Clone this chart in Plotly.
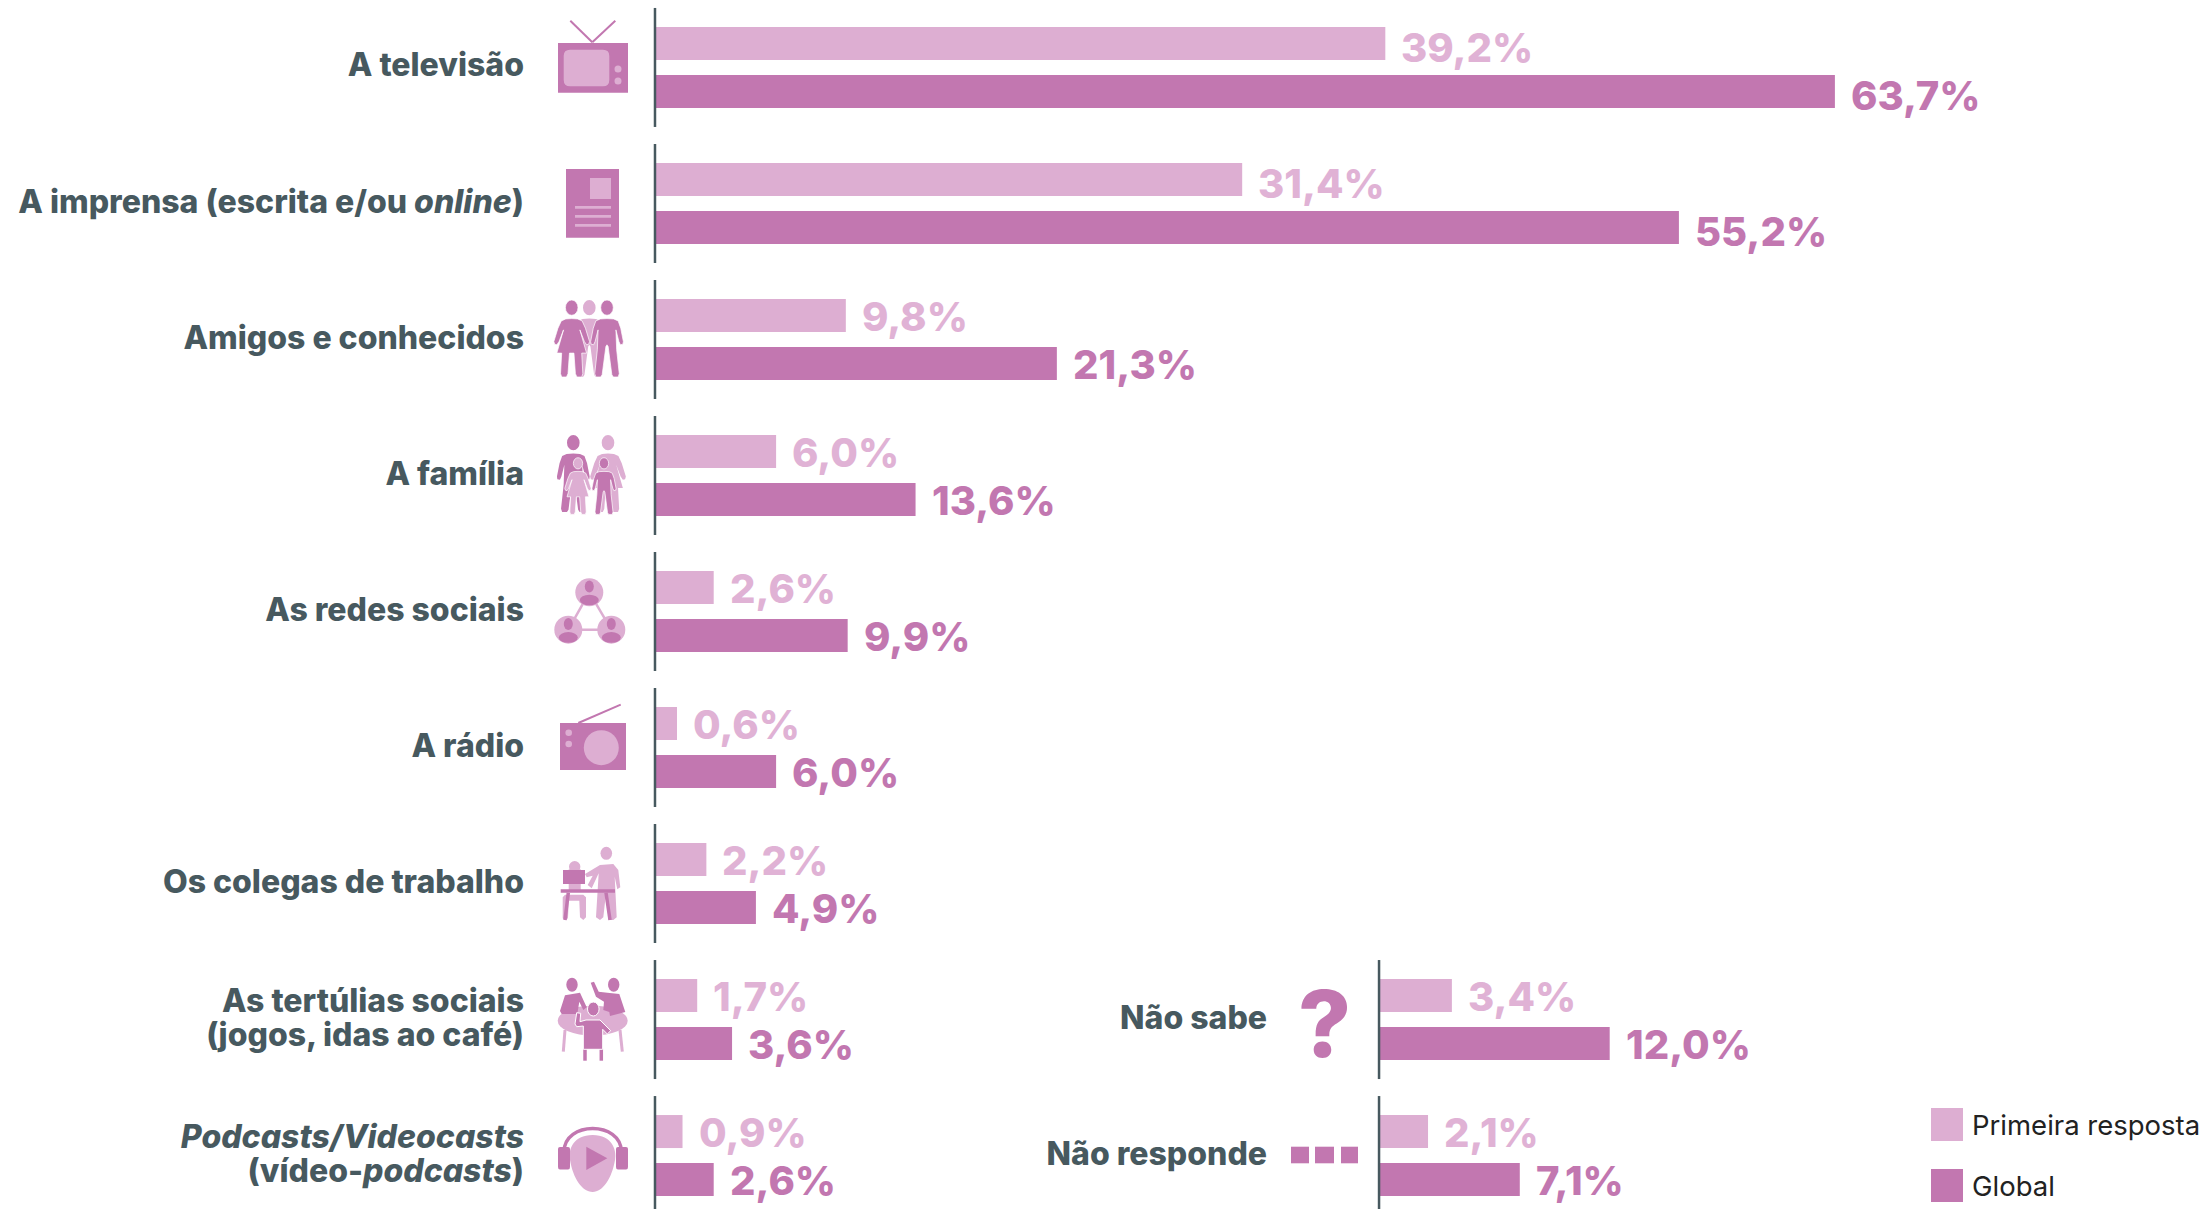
import re
import plotly.graph_objects as go

W, H = 2210, 1209
LIGHT, DARK, SLATE = "#ddaed2", "#c277b0", "#47595f"

categories = ["A televisão", "A imprensa (escrita e/ou <i>online</i>)", "Amigos e conhecidos", "A família",
              "As redes sociais", "A rádio", "Os colegas de trabalho",
              "As tertúlias sociais<br>(jogos, idas ao café)", "<i>Podcasts/Videocasts</i><br>(vídeo-<i>podcasts</i>)"]
primeira = [39.2, 31.4, 9.8, 6.0, 2.6, 0.6, 2.2, 1.7, 0.9]
globais = [63.7, 55.2, 21.3, 13.6, 9.9, 6.0, 4.9, 3.6, 2.6]

categories2 = ["Não sabe", "Não responde"]
rows2 = [7, 8]
primeira2 = [3.4, 2.1]
globais2 = [12.0, 7.1]

BASE = -0.55
PX = 18.35  # pixels per percentage point
Z1, Z2 = 666.0, 1389.5  # pixel of zero on each panel
YR = [8.393, -0.496]
BAR_SHIFT = 24 / 136
LINE_SHIFT = 17 / 136

rows = list(range(len(categories)))
fmt = lambda v: f"{v:.1f}".replace(".", ",") + "%"

# two-line categories are set as two ticks, so their leading can follow the original
tickvals, ticktext = [], []
for r, cat in zip(rows, categories):
    parts = cat.split("<br>")
    if len(parts) == 1:
        tickvals.append(r - 0.016)
        ticktext.append(parts[0])
    else:
        tickvals += [r - LINE_SHIFT - 0.012, r + LINE_SHIFT - 0.012]
        ticktext += parts


def bars(name, vals, ys, color, xa, ya):
    return go.Bar(name=name, y=ys, x=[round(v - BASE, 3) for v in vals], base=BASE, orientation="h",
                  marker=dict(color=color, line=dict(width=0)), xaxis=xa, yaxis=ya, showlegend=False,
                  hovertemplate="%{text}<extra>" + name + "</extra>", text=[fmt(v) for v in vals],
                  textposition="none")


fig = go.Figure([
    bars("Primeira resposta", primeira, rows, LIGHT, "x", "y"),
    bars("Global", globais, rows, DARK, "x", "y"),
    bars("Primeira resposta", primeira2, rows2, LIGHT, "x2", "y2"),
    bars("Global", globais2, rows2, DARK, "x2", "y2"),
])

shapes, anns = [], []


# ---------- pictogram helpers: coordinates are page pixels, mapped to paper ----------
def pth(d):
    toks = re.findall(r"[MLCQZ]|-?\d+\.?\d*", d)
    out, isx = [], True
    for t in toks:
        if t in "MLCQZ":
            out.append(t)
        else:
            out.append(f"{float(t)/W:.5f}," if isx else f"{1-float(t)/H:.5f}")
            isx = not isx
    return " ".join(out).replace(", ", ",")


def path(d, fill=DARK, lw=0, lc="white"):
    shapes.append(dict(type="path", xref="paper", yref="paper", path=pth(d), fillcolor=fill, layer="above",
                       line=dict(width=lw, color=lc)))


def poly(pts, fill=DARK, lw=0, lc="white"):
    path("M " + " L ".join(f"{x} {y}" for x, y in pts) + " Z", fill, lw, lc)


def rect(x0, y0, x1, y1, fill=DARK):
    shapes.append(dict(type="rect", xref="paper", yref="paper", x0=x0/W, x1=x1/W, y0=1-y0/H, y1=1-y1/H,
                       fillcolor=fill, layer="above", line=dict(width=0)))


def ell(cx, cy, rx, ry=None, fill=DARK, lw=0, lc="white"):
    ry = ry or rx
    shapes.append(dict(type="circle", xref="paper", yref="paper", x0=(cx-rx)/W, x1=(cx+rx)/W,
                       y0=1-(cy-ry)/H, y1=1-(cy+ry)/H, fillcolor=fill, layer="above",
                       line=dict(width=lw, color=lc)))


def seg(x0, y0, x1, y1, color=DARK, w=2):
    shapes.append(dict(type="line", xref="paper", yref="paper", x0=x0/W, x1=x1/W, y0=1-y0/H, y1=1-y1/H,
                       layer="above", line=dict(color=color, width=w)))


MAN = [(0, 56), (18, 57), (30, 63), (37, 85), (44, 125), (43, 133), (36, 135), (32, 125), (24, 90), (26, 150),
       (33, 222), (30, 232), (17, 232), (13, 225), (3, 140), (0, 135)]
WOMAN = [(0, 56), (16, 57), (28, 63), (37, 85), (48, 125), (46, 133), (40, 135), (34, 125), (22, 90), (40, 160),
         (27, 160), (30, 222), (27, 232), (14, 232), (10, 222), (6, 160), (0, 160)]


def person(cx, top, h, color, shape, halo=0.0):
    k = h / 232
    kx = k * 1.12
    right = [(cx + x*kx, top + y*k) for x, y in shape]
    left = [(cx - x*kx, top + y*k) for x, y in reversed(shape[1:-1])]
    poly(right + left, color, halo)
    ell(cx, top + 23*k, 19*k, 23*k, color, halo)


# TV
rect(558, 43, 628, 92.7)
path("M 570 49.7 L 603 49.7 Q 609.3 49.7 609.3 56 L 609.3 80 Q 609.3 86.3 603 86.3 L 570 86.3 Q 563.7 86.3 563.7 80 L 563.7 56 Q 563.7 49.7 570 49.7 Z", LIGHT)
ell(618, 69, 3.5, fill=LIGHT)
ell(618, 81, 3.5, fill=LIGHT)
seg(592.3, 42.3, 570.3, 20.7)
seg(592.3, 42.3, 615.3, 20.7)
# Newspaper
rect(566, 169, 619, 237.7)
rect(590, 178, 611, 199, LIGHT)
for yy in (207.3, 216.3, 225.3):
    rect(575, yy - 1.4, 611, yy + 1.4, LIGHT)
# Friends
person(589.3, 300, 77, LIGHT, MAN)
person(571.7, 300, 77, DARK, WOMAN, 0.7)
person(607, 300, 77, DARK, MAN, 0.7)
# Family
person(573.3, 435, 77, DARK, MAN)
person(608, 435, 77, LIGHT, WOMAN)
person(578, 457.7, 56.7, LIGHT, WOMAN, 0.7)
person(604, 457.7, 56.7, DARK, MAN, 0.7)
# Social networks
NODES = [(589.3, 592.3), (568.3, 629.7), (611.3, 629.7)]
for a, b in ((0, 1), (1, 2), (2, 0)):
    seg(*NODES[a], *NODES[b], LIGHT, 2.5)
for nx, ny in NODES:
    ell(nx, ny, 14, fill=LIGHT)
    ell(nx, ny - 5.7, 4.5, 6)
    ell(nx, ny + 7.7, 9.5, 5.3)
# Radio
rect(560, 723, 626, 770)
ell(601.3, 747.7, 17.5, fill=LIGHT)
ell(568.7, 732.7, 3.3, fill=LIGHT)
ell(568.7, 744, 3.3, fill=LIGHT)
seg(578.3, 723, 620.7, 704.7)


# Colleagues (zoomed-crop helper: crop px -> page px)
def c(zx, zy, oy=810):
    return (round(520 + zx/3, 1), round(oy + zy/3, 1))


ell(606.3, 853.3, 5.8, 6.5, LIGHT)
poly([c(*p) for p in [(195, 192), (240, 165), (280, 162), (295, 180), (301, 232), (292, 238), (284, 200), (290, 322),
                      (280, 330), (266, 330), (258, 250), (250, 322), (240, 330), (228, 322), (236, 190), (215, 235),
                      (203, 225), (218, 197), (200, 202)]], LIGHT)
ell(574.7, 866.7, 5.7, fill=LIGHT)
rect(*c(146, 178), *c(182, 240), LIGHT)
poly([c(*p) for p in [(128, 262), (135, 254), (190, 254), (198, 262), (198, 322), (190, 330), (180, 322), (178, 272),
                      (146, 272), (144, 325), (136, 331), (128, 325)]], LIGHT)
rect(*c(129, 180), *c(195, 222))
rect(*c(122, 238), *c(285, 248))
seg(*c(145, 248), *c(135, 330), DARK, 3.5)
seg(*c(258, 248), *c(270, 330), DARK, 3.5)
# Social gatherings
ell(592.7, 1020.7, 35, 15, LIGHT)
seg(*c(135, 660), *c(130, 725), LIGHT, 3)
seg(*c(300, 660), *c(307, 725), LIGHT, 3)
ell(*c(156, 524), 5.7, 7)
poly([c(*p) for p in [(135, 556), (180, 548), (200, 592), (190, 600), (178, 575), (172, 612), (125, 612), (120, 603)]])
ell(*c(281, 524), 5.7, 7)
poly([c(*p) for p in [(212, 518), (222, 515), (236, 545), (262, 548), (298, 552), (316, 606), (270, 618), (268, 606),
                      (250, 600), (252, 575), (228, 560)]])
seg(*c(195, 715), *c(195, 752), DARK, 3.5)
seg(*c(244, 715), *c(244, 752), DARK, 3.5)
ell(*c(220, 597), 5.8, 7, DARK, 1)
poly([c(*p) for p in [(170, 608), (182, 610), (180, 635), (198, 630), (240, 630), (272, 662), (262, 672), (248, 658),
                      (248, 718), (190, 718), (190, 648), (170, 650), (165, 642)]], DARK, 1)
# Podcast
path("M 592.7 1135 C 612 1135 617 1150 615 1160 C 612 1178 603 1192 592.7 1192 C 582 1192 573 1178 570 1160 C 568 1150 573 1135 592.7 1135 Z", LIGHT)
path("M 564 1152 C 564 1120.7 621.4 1120.7 621.4 1152", "rgba(0,0,0,0)", 3.5, DARK)
path("M 560 1147 L 568 1147 Q 570 1147 570 1149 L 570 1167 Q 570 1169.5 568 1169.5 L 560 1169.5 Q 558 1169.5 558 1167 L 558 1149 Q 558 1147 560 1147 Z")
path("M 618 1147 L 626 1147 Q 628 1147 628 1149 L 628 1167 Q 628 1169.5 626 1169.5 L 618 1169.5 Q 616 1169.5 616 1167 L 616 1149 Q 616 1147 618 1147 Z")
poly([(586.3, 1146.7), (586.3, 1170), (607.3, 1158.3)])
# Ellipsis
for x0, x1 in ((1291, 1309), (1315, 1334), (1341, 1358)):
    rect(x0, 1146.7, x1, 1163.3)
# Axis stubs per row
for r in rows:
    shapes.append(dict(type="line", xref="x", yref="y", x0=-0.6, x1=-0.6, y0=r-0.4375, y1=r+0.4375, layer="above",
                       line=dict(color=SLATE, width=2.5)))
for r in rows2:
    shapes.append(dict(type="line", xref="x2", yref="y2", x0=-0.57, x1=-0.57, y0=r-0.4375, y1=r+0.4375, layer="above",
                       line=dict(color=SLATE, width=2.5)))


# Value labels
def label(v, r, col, xa, ya, dy):
    anns.append(dict(x=v, y=r, xref=xa, yref=ya, text=fmt(v), showarrow=False, xanchor="left", yanchor="middle",
                     xshift=14, yshift=dy,
                     font=dict(family="Inter", size=40, color=col, weight=800)))


for r, a, b in zip(rows, primeira, globais):
    dy = -4 if r < 2 else -1
    label(a, r - BAR_SHIFT, "#e0b2d5", "x", "y", dy)
    label(b, r + BAR_SHIFT, DARK, "x", "y", dy)
for r, a, b in zip(rows2, primeira2, globais2):
    label(a, r - BAR_SHIFT, "#e0b2d5", "x2", "y2", -1)
    label(b, r + BAR_SHIFT, DARK, "x2", "y2", -1)

# Question mark
anns.append(dict(x=1324/W, y=1-1023/H, xref="paper", yref="paper", text="?", showarrow=False, yanchor="middle",
                 font=dict(family="Inter", size=92, color=DARK, weight=800)))
# Legend
for y0, txt, col in ((1108, "Primeira resposta", LIGHT), (1169, "Global", DARK)):
    rect(1931, y0, 1963, y0 + 33, col)
    anns.append(dict(x=1970/W, y=1-(y0+17)/H, xref="paper", yref="paper", text=txt, showarrow=False, xanchor="left",
                     yanchor="middle", font=dict(family="Inter", size=27.5, color="#222222")))

tickf = dict(family="Inter", size=32, color=SLATE, weight=800)
fig.update_layout(
    width=W, height=H, margin=dict(l=0, r=0, t=0, b=0), paper_bgcolor="white", plot_bgcolor="white",
    barmode="group", bargap=0.294, bargroupgap=0.3125, shapes=shapes, annotations=anns,
    xaxis=dict(visible=False, range=[-Z1/PX, (W-Z1)/PX], domain=[0, 1], anchor="y", fixedrange=True),
    xaxis2=dict(visible=False, range=[-Z2/PX, (W-Z2)/PX], domain=[0, 1], anchor="y2", overlaying="x", fixedrange=True),
    yaxis=dict(range=YR, domain=[0, 1], anchor="free", position=524/W, side="left", showgrid=False, zeroline=False,
               showline=False, ticks="", tickmode="array", tickvals=tickvals, ticktext=ticktext, tickfont=tickf,
               fixedrange=True),
    yaxis2=dict(range=YR, domain=[0, 1], anchor="free", position=1267/W, side="left", overlaying="y", showgrid=False,
                zeroline=False, showline=False, ticks="", tickmode="array", tickvals=[r - 0.016 for r in rows2],
                ticktext=categories2, tickfont=tickf, fixedrange=True),
)
fig.write_html("out.html", post_script="document.body.style.margin='0';document.body.style.overflow='hidden';",
               config=dict(displayModeBar=False))
